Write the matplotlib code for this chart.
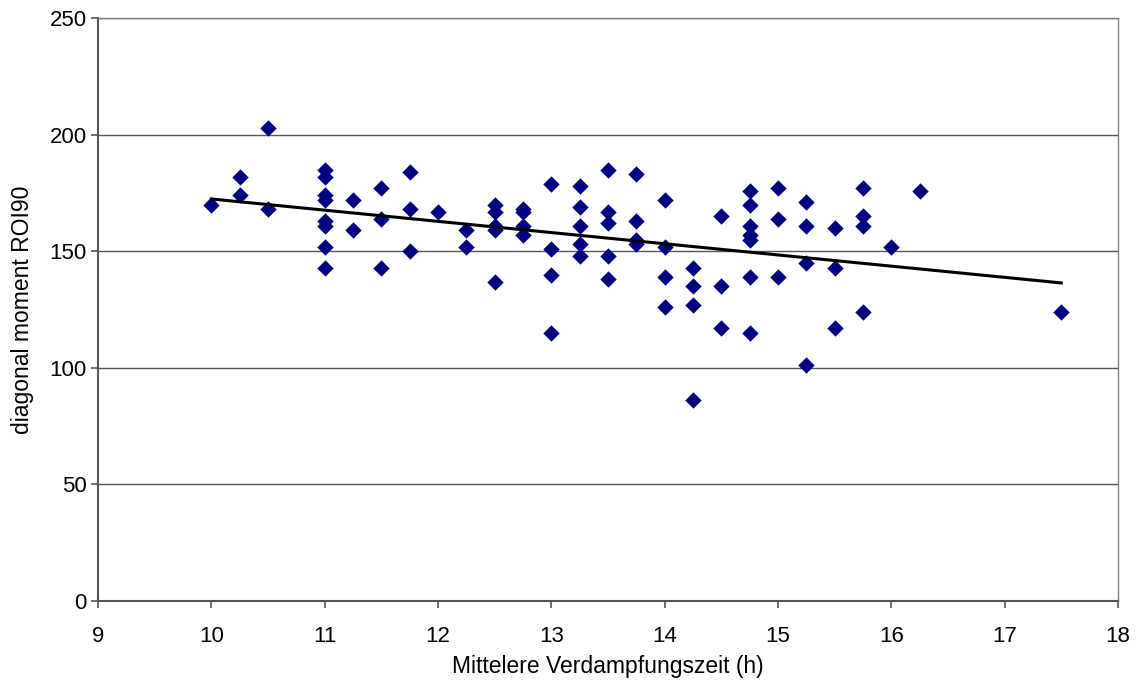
import numpy as np
import matplotlib
matplotlib.use("Agg")
import matplotlib.pyplot as plt

plt.rcParams['font.family'] = ['Liberation Sans', 'DejaVu Sans']

x_vals = [10,
          10.25, 10.25,
          10.5, 10.5,
          11, 11, 11, 11, 11, 11, 11, 11,
          11.25, 11.25,
          11.5, 11.5, 11.5,
          11.75, 11.75, 11.75,
          12,
          12.25, 12.25,
          12.5, 12.5, 12.5, 12.5, 12.5,
          12.75, 12.75, 12.75, 12.75,
          13, 13, 13, 13,
          13.25, 13.25, 13.25, 13.25, 13.25,
          13.5, 13.5, 13.5, 13.5, 13.5,
          13.75, 13.75, 13.75, 13.75,
          14, 14, 14, 14,
          14.25, 14.25, 14.25, 14.25,
          14.5, 14.5, 14.5,
          14.75, 14.75, 14.75, 14.75, 14.75, 14.75, 14.75,
          15, 15, 15,
          15.25, 15.25, 15.25, 15.25,
          15.5, 15.5, 15.5,
          15.75, 15.75, 15.75, 15.75,
          16,
          16.25,
          17.5]
y_vals = [170,
          182, 174,
          203, 168,
          185, 182, 174, 172, 163, 161, 152, 143,
          172, 159,
          177, 164, 143,
          184, 168, 150,
          167,
          159, 152,
          170, 167, 161, 159, 137,
          168, 167, 161, 157,
          179, 151, 140, 115,
          178, 169, 161, 153, 148,
          185, 167, 162, 148, 138,
          183, 163, 155, 153,
          172, 152, 139, 126,
          143, 135, 127, 86,
          165, 135, 117,
          176, 170, 161, 157, 155, 139, 115,
          177, 164, 139,
          171, 161, 145, 101,
          160, 143, 117,
          177, 165, 161, 124,
          152,
          176,
          124]

x_ticks = [9, 10, 11, 12, 13, 14, 15, 16, 17, 18]
y_ticks = [0, 50, 100, 150, 200, 250]

x = np.array(x_vals, dtype=float)
y = np.array(y_vals, dtype=float)

fig = plt.figure(figsize=(11.38, 6.84), dpi=100)
ax = fig.add_axes([0.0861, 0.1213, 0.8963, 0.8524])

ax.set_xlim(9, 18)
ax.set_ylim(0, 250)
ax.set_xticks(x_ticks)
ax.set_yticks(y_ticks)

ax.yaxis.grid(True, color='#555555', linewidth=1.0)
ax.set_axisbelow(True)

ax.scatter(x, y, marker='D', s=8**2, color='#000080', edgecolors='#000080',
           linewidths=0.3, zorder=3)

slope, intercept = np.polyfit(x, y, 1)
xl = np.array([x.min(), x.max()])
ax.plot(xl, slope * xl + intercept, color='black', linewidth=2.2, zorder=4)

for side in ['top', 'right']:
    ax.spines[side].set_color('#808080')
    ax.spines[side].set_linewidth(1.0)
for side in ['left', 'bottom']:
    ax.spines[side].set_color('#555555')
    ax.spines[side].set_linewidth(1.5)

ax.tick_params(axis='both', direction='out', length=5, width=1.2,
               color='#555555', labelsize=16, labelcolor='black')
ax.tick_params(axis='x', pad=13)
ax.tick_params(axis='y', pad=3)

ax.set_xlabel('Mittelere Verdampfungszeit (h)', fontsize=16.5, labelpad=6)
ax.set_ylabel('diagonal moment ROI90', fontsize=16.5, labelpad=11)

fig.savefig('out.png', dpi=100)
